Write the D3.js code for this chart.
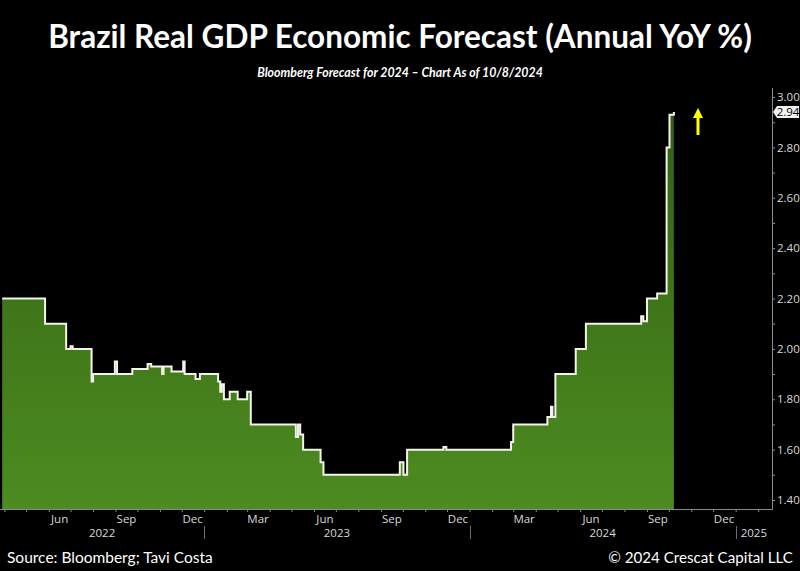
<!DOCTYPE html>
<html>
<head>
<meta charset="utf-8">
<script src="https://cdn.jsdelivr.net/npm/d3@7"></script>
<style>
  html, body { margin: 0; padding: 0; background: #000; }
  svg { display: block; }
</style>
</head>
<body>
<svg id="chart" width="800" height="571"></svg>
<script>
// ---------- DATA ----------
const titleText = "Brazil Real GDP Economic Forecast (Annual YoY %)";
const subtitleText = "Bloomberg Forecast for 2024 \u2013 Chart As of 10/8/2024";
const sourceText = "Source: Bloomberg; Tavi Costa";
const copyrightText = "\u00A9 2024 Crescat Capital LLC";

const dates = [
  "2022-03-29","2022-05-27","2022-06-25","2022-07-01","2022-07-04","2022-07-30","2022-08-01",
  "2022-08-31","2022-09-03","2022-09-24","2022-10-15","2022-10-20","2022-11-04","2022-11-06",
  "2022-11-17","2022-12-03","2022-12-05","2022-12-20","2022-12-26","2023-01-20","2023-01-23",
  "2023-01-25","2023-01-28","2023-02-05","2023-02-16","2023-03-01","2023-03-06","2023-05-07",
  "2023-05-10","2023-05-13","2023-05-17","2023-06-10","2023-06-14","2023-09-27","2023-10-02",
  "2023-10-07","2023-11-26","2023-11-30","2024-02-27","2024-03-01","2024-04-17","2024-04-22",
  "2024-04-24","2024-04-28","2024-05-26","2024-06-09","2024-08-24","2024-08-27","2024-09-01",
  "2024-09-15","2024-09-28","2024-10-02","2024-10-08"
];
const values = [
  2.20,2.10,2.00,2.01,2.00,1.87,1.90,
  1.95,1.90,1.92,1.94,1.93,1.90,1.93,
  1.91,1.95,1.90,1.88,1.90,1.87,1.83,
  1.86,1.80,1.83,1.80,1.83,1.70,1.65,
  1.70,1.66,1.60,1.55,1.50,1.55,1.50,
  1.60,1.61,1.60,1.63,1.70,1.73,1.77,
  1.73,1.90,2.00,2.10,2.13,2.11,2.20,
  2.22,2.80,2.93,2.94
];
const lastValueLabel = "2.94";
const yTicks = [1.40,1.60,1.80,2.00,2.20,2.40,2.60,2.80,3.00];
const yMinorTicks = [1.50,1.70,1.90,2.10,2.30,2.50,2.70,2.90];
const xDomain = ["2022-03-26","2025-02-20"];
const monthLabelNames = {2:"Mar",5:"Jun",8:"Sep",11:"Dec"};
const years = [2022,2023,2024,2025];

// ---------- LAYOUT ----------
const W = 800, H = 571;
const plot = {left: 0, right: 772, top: 88, bottom: 509};
const parse = d3.timeParse("%Y-%m-%d");
const data = dates.map((d,i) => ({date: parse(d), value: values[i]}));

const svg = d3.select("#chart");
svg.append("rect").attr("width", W).attr("height", H).attr("fill", "#000");

const x = d3.scaleTime().domain(xDomain.map(parse)).range([plot.left, plot.right]);
const y = d3.scaleLinear().domain([1.4, 3.0]).range([500, 97]);

// gradient
const defs = svg.append("defs");
const grad = defs.append("linearGradient").attr("id","g").attr("x1",0).attr("x2",0).attr("y1",0).attr("y2",1)
  .attr("gradientUnits","userSpaceOnUse").attr("y1", plot.top).attr("y2", plot.bottom);
grad.append("stop").attr("offset","0%").attr("stop-color","#2f5c12");
grad.append("stop").attr("offset","45%").attr("stop-color","#3d7318");
grad.append("stop").attr("offset","100%").attr("stop-color","#4d8c21");

const area = d3.area().curve(d3.curveStepAfter)
  .x(d => x(d.date)).y0(plot.bottom).y1(d => y(d.value));
const line = d3.line().curve(d3.curveStepAfter)
  .x(d => x(d.date)).y(d => y(d.value));

svg.append("path").datum(data).attr("d", area).attr("fill", "url(#g)");
svg.append("path").datum(data).attr("d", line).attr("fill","none")
  .attr("stroke","#f4f4ea").attr("stroke-width",2).attr("stroke-linejoin","miter");

// ---------- AXES ----------
const axisColor = "#8a8a8a";
const labelColor = "#d9d9d9";
const axisFont = "Open Sans, Liberation Sans, sans-serif";

// bottom line
svg.append("line").attr("x1", plot.left).attr("x2", plot.right)
  .attr("y1", plot.bottom + 0.5).attr("y2", plot.bottom + 0.5)
  .attr("stroke", axisColor).attr("stroke-width", 1);
// right line
svg.append("line").attr("x1", plot.right + 0.5).attr("x2", plot.right + 0.5)
  .attr("y1", plot.top).attr("y2", plot.bottom + 1)
  .attr("stroke", axisColor).attr("stroke-width", 1);

// Y axis via d3.axisRight
const yAxis = d3.axisRight(y).tickValues(yTicks).tickFormat(d3.format(".2f")).tickSize(3).tickPadding(2);
const gy = svg.append("g").attr("transform", `translate(${plot.right},0)`).call(yAxis);
gy.select(".domain").remove();
gy.selectAll("line").attr("stroke", axisColor);
gy.selectAll("text").attr("fill", labelColor).style("font-family", axisFont).style("font-size","11.5px");
const yMinor = d3.axisRight(y).tickValues(yMinorTicks).tickFormat("").tickSize(3);
const gym = svg.append("g").attr("transform", `translate(${plot.right},0)`).call(yMinor);
gym.select(".domain").remove();
gym.selectAll("line").attr("stroke", axisColor);

// X axis: monthly ticks
const months = d3.timeMonth.range(x.domain()[0], x.domain()[1]);
const xAxis = d3.axisBottom(x).tickValues(months).tickFormat("").tickSize(3);
const gx = svg.append("g").attr("transform", `translate(0,${plot.bottom})`).call(xAxis);
gx.select(".domain").remove();
gx.selectAll("line").attr("stroke", axisColor);

// month labels at mid-month
const labelMonths = months.filter(m => monthLabelNames[m.getMonth()] !== undefined);
svg.append("g").selectAll("text").data(labelMonths).join("text")
  .attr("x", m => x(d3.timeDay.offset(m, 15)))
  .attr("y", 523)
  .attr("text-anchor","middle")
  .attr("fill", labelColor).style("font-family", axisFont).style("font-size","11.5px")
  .text(m => monthLabelNames[m.getMonth()]);

// year labels at centre of visible span
svg.append("g").selectAll("text").data(years).join("text")
  .attr("x", yr => {
    const a = Math.max(x(new Date(yr,0,1)), plot.left);
    const b = Math.min(x(new Date(yr+1,0,1)), plot.right);
    return (a+b)/2;
  })
  .attr("y", 537)
  .attr("text-anchor","middle")
  .attr("fill", labelColor).style("font-family", axisFont).style("font-size","11.5px")
  .text(yr => yr);
// year separators
svg.append("g").selectAll("line").data(years.slice(1)).join("line")
  .attr("x1", yr => Math.round(x(new Date(yr,0,1))) + 0.5)
  .attr("x2", yr => Math.round(x(new Date(yr,0,1))) + 0.5)
  .attr("y1", 526).attr("y2", 539)
  .attr("stroke", "#6a6a6a").attr("stroke-width", 1);

// last value label box
const last = data[data.length-1];
const ly = y(last.value);
const bx = plot.right + 1;
svg.append("path")
  .attr("d", `M${bx},${ly} L${bx+4},${ly-6} L${bx+26},${ly-6} L${bx+26},${ly+6} L${bx+4},${ly+6} Z`)
  .attr("fill", "#f2f2f2");
svg.append("text").attr("x", bx+15).attr("y", ly+4).attr("text-anchor","middle")
  .attr("fill","#000").style("font-family", axisFont).style("font-size","11.5px").text(lastValueLabel);

// yellow arrow
const ax = 698;
svg.append("line").attr("x1", ax).attr("x2", ax).attr("y1", 135).attr("y2", 116)
  .attr("stroke", "#ffff00").attr("stroke-width", 3);
svg.append("path").attr("d", `M${ax-5},${118} L${ax},${108} L${ax+5},${118} Z`).attr("fill", "#ffff00");

// ---------- TEXTS ----------
function fitText(sel, targetWidth) {
  const node = sel.node();
  const w = node.getComputedTextLength();
  const fs = parseFloat(sel.style("font-size"));
  sel.style("font-size", (fs * targetWidth / w) + "px");
}
const title = svg.append("text").attr("x", 400).attr("y", 48).attr("text-anchor","middle")
  .attr("fill","#fff").style("font-family","Lato, Open Sans, sans-serif").style("font-weight","700")
  .style("font-size","30px").text(titleText);
fitText(title, 704);

const sub = svg.append("text").attr("x", 400).attr("y", 77).attr("text-anchor","middle")
  .attr("fill","#fff").style("font-family","Lato, Open Sans, sans-serif").style("font-weight","700")
  .style("font-style","italic").style("font-size","11px").text(subtitleText);
fitText(sub, 286);

const src = svg.append("text").attr("x", 7).attr("y", 563).attr("text-anchor","start")
  .attr("fill","#fff").style("font-family","Lato, Open Sans, sans-serif")
  .style("font-size","16px").text(sourceText);
fitText(src, 206);

const cp = svg.append("text").attr("x", 793).attr("y", 563).attr("text-anchor","end")
  .attr("fill","#fff").style("font-family","Lato, Open Sans, sans-serif")
  .style("font-size","16px").text(copyrightText);
fitText(cp, 185);
</script>
</body>
</html>
